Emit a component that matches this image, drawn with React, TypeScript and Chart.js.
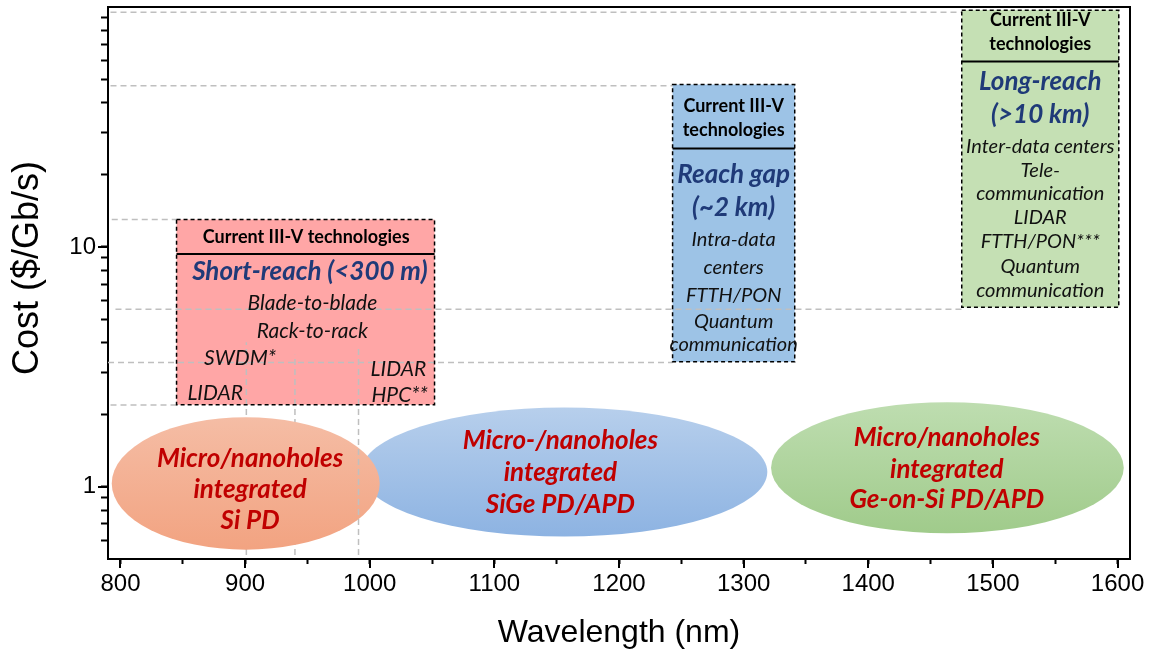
import React, { useEffect, useRef } from 'react';
import { Chart, registerables } from 'chart.js';

Chart.register(...registerables);

// Axes
const X_MIN = 790;
const X_MAX = 1610;
const Y_MIN = 0.5;
const Y_MAX = 100;
const xTickValues = [800, 850, 900, 950, 1000, 1050, 1100, 1150, 1200, 1250, 1300, 1350, 1400, 1450, 1500, 1550, 1600];
const xTickLabels = ['800', '', '900', '', '1000', '', '1100', '', '1200', '', '1300', '', '1400', '', '1500', '', '1600'];
const yTickValues = [0.6, 0.7, 0.8, 0.9, 1, 2, 3, 4, 5, 6, 7, 8, 9, 10, 20, 30, 40, 50, 60, 70, 80, 90];
const yTickLabels = ['', '', '', '', '1', '', '', '', '', '', '', '', '', '10', '', '', '', '', '', '', '', ''];
const xTitle = 'Wavelength (nm)';
const yTitle = 'Cost ($/Gb/s)';

// Dashed guide lines (gray)
const hGuideY = [95, 47, 13, 5.5, 3.3, 2.19];
const hGuideStart = [792, 792, 793, 796, 790, 792];
const hGuideEnd = [1475, 1243, 845, 1475, 1243, 845];
const vGuideX = [901, 940, 991];
const vGuideTop = [4.0, 3.55, 3.85];
const vGuideBottom = [0.52, 0.52, 0.52];

// Technology boxes
const boxX0 = [845, 1243, 1475];
const boxX1 = [1052, 1341, 1601];
const boxTop = [13, 47.5, 97];
const boxBottom = [2.2, 3.32, 5.6];
const boxSep = [9.33, 25.7, 59.3];
const boxFill = ['#FFA6A6', '#9DC3E6', '#C5E0B4'];

// Box texts
const pinkText = ['Current III-V technologies', 'Short-reach (<300 m)', 'Blade-to-blade', 'Rack-to-rack', 'SWDM*', 'LIDAR', 'LIDAR', 'HPC**'];
const pinkX = [949, 952, 954, 954, 896, 876, 1023, 1024];
const pinkY = [11.0, 7.88, 5.8, 4.45, 3.45, 2.46, 3.1, 2.41];
const pinkStyle = ['head', 'title', 'bodyL', 'bodyL', 'bodyL', 'bodyL', 'bodyL', 'bodyL'];

const blueText = ['Current III-V', 'technologies', 'Reach gap', '(~2 km)', 'Intra-data', 'centers', 'FTTH/PON', 'Quantum', 'communication'];
const blueX = [1292, 1292, 1292, 1292, 1292, 1292, 1292, 1292, 1292];
const blueY = [38.5, 30.6, 20.0, 14.6, 10.75, 8.2, 6.25, 4.9, 3.9];
const blueStyle = ['head', 'head', 'title', 'title', 'body', 'body', 'body', 'body', 'body'];

const greenText = ['Current III-V', 'technologies', 'Long-reach', '(>10 km)', 'Inter-data centers', 'Tele-', 'communication', 'LIDAR', 'FTTH/PON***', 'Quantum', 'communication'];
const greenX = [1538, 1538, 1538, 1538, 1538, 1538, 1538, 1538, 1538, 1538, 1538];
const greenY = [88.4, 70.3, 48.9, 35.7, 26.3, 20.9, 16.7, 13.3, 10.55, 8.31, 6.55];
const greenStyle = ['head', 'head', 'title', 'title', 'body', 'body', 'body', 'body', 'body', 'body', 'body'];

// Ellipses (detector platforms), drawn in this order
const ellX0 = [993, 793, 1322];
const ellX1 = [1319, 1008, 1605];
const ellTop = [2.14, 1.95, 2.25];
const ellBottom = [0.62, 0.547, 0.64];
const ellColTop = ['#B7CFEC', '#F5BDA5', '#BEDDB0'];
const ellColBottom = ['#8DB3E2', '#F2A381', '#A0CB8B'];

const ellText = [
  ['Micro-/nanoholes', 'integrated', 'SiGe PD/APD'],
  ['Micro/nanoholes', 'integrated', 'Si PD'],
  ['Micro/nanoholes', 'integrated', 'Ge-on-Si PD/APD'],
];
const ellTextX = [1153, 904, 1463];
const ellTextY = [
  [1.56, 1.146, 0.845],
  [1.31, 0.975, 0.725],
  [1.61, 1.18, 0.88],
];

const FONT = 'Lato, "Open Sans", sans-serif';
const AXIS_FONT = '"Liberation Sans", Arial, sans-serif';

function fontFor(style: string): [string, string] {
  if (style === 'head') return [`bold 18px ${FONT}`, '#000000'];
  if (style === 'title') return [`italic bold 26px ${FONT}`, '#1F3A78'];
  if (style === 'bodyL') return [`italic 21px ${FONT}`, '#111111'];
  return [`italic 20px ${FONT}`, '#111111'];
}

const decorPlugin = {
  id: 'decor',
  beforeDatasetsDraw(chart: any) {
    const { ctx } = chart;
    const xs = chart.scales.x;
    const ys = chart.scales.y;
    ctx.save();
    for (let i = 0; i < boxX0.length; i++) {
      const l = xs.getPixelForValue(boxX0[i]);
      const r = xs.getPixelForValue(boxX1[i]);
      const t = ys.getPixelForValue(boxTop[i]);
      const b = ys.getPixelForValue(boxBottom[i]);
      ctx.fillStyle = boxFill[i];
      ctx.fillRect(l, t, r - l, b - t);
    }
    ctx.restore();
  },
  beforeDatasetDraw(chart: any, args: any) {
    const ds = chart.data.datasets[args.index];
    if (!ds || ds.label !== 'v991') return;
    const { ctx } = chart;
    const xs = chart.scales.x;
    const ys = chart.scales.y;
    ctx.save();
    for (let i = 0; i < ellX0.length; i++) {
      const l = xs.getPixelForValue(ellX0[i]);
      const r = xs.getPixelForValue(ellX1[i]);
      const t = ys.getPixelForValue(ellTop[i]);
      const b = ys.getPixelForValue(ellBottom[i]);
      const g = ctx.createLinearGradient(0, t, 0, b);
      g.addColorStop(0, ellColTop[i]);
      g.addColorStop(1, ellColBottom[i]);
      ctx.fillStyle = g;
      ctx.beginPath();
      ctx.ellipse((l + r) / 2, (t + b) / 2, (r - l) / 2, (b - t) / 2, 0, 0, Math.PI * 2);
      ctx.fill();
      ctx.font = `italic bold 26px ${FONT}`;
      ctx.fillStyle = '#C00000';
      ctx.textAlign = 'center';
      ctx.textBaseline = 'middle';
      for (let k = 0; k < ellText[i].length; k++) {
        ctx.fillText(ellText[i][k], xs.getPixelForValue(ellTextX[i]), ys.getPixelForValue(ellTextY[i][k]));
      }
    }
    ctx.restore();
  },
  afterDatasetsDraw(chart: any) {
    const { ctx } = chart;
    const xs = chart.scales.x;
    const ys = chart.scales.y;
    ctx.save();
    for (let i = 0; i < boxX0.length; i++) {
      const l = xs.getPixelForValue(boxX0[i]);
      const r = xs.getPixelForValue(boxX1[i]);
      const t = ys.getPixelForValue(boxTop[i]);
      const b = ys.getPixelForValue(boxBottom[i]);
      const s = ys.getPixelForValue(boxSep[i]);
      ctx.strokeStyle = '#000000';
      ctx.lineWidth = 1.5;
      ctx.setLineDash([4, 3]);
      ctx.strokeRect(l, t, r - l, b - t);
      ctx.setLineDash([]);
      ctx.lineWidth = 2;
      ctx.beginPath();
      ctx.moveTo(l, s);
      ctx.lineTo(r, s);
      ctx.stroke();
    }
    const groups: [string[], number[], number[], string[]][] = [
      [pinkText, pinkX, pinkY, pinkStyle],
      [blueText, blueX, blueY, blueStyle],
      [greenText, greenX, greenY, greenStyle],
    ];
    ctx.textAlign = 'center';
    ctx.textBaseline = 'middle';
    for (const [texts, gx, gy, st] of groups) {
      for (let k = 0; k < texts.length; k++) {
        const [f, c] = fontFor(st[k]);
        ctx.font = f;
        ctx.fillStyle = c;
        ctx.fillText(texts[k], xs.getPixelForValue(gx[k]), ys.getPixelForValue(gy[k]));
      }
    }
    ctx.restore();
  },
  afterDraw(chart: any) {
    const { ctx, chartArea } = chart;
    const xs = chart.scales.x;
    const ys = chart.scales.y;
    ctx.save();
    ctx.strokeStyle = '#000000';
    ctx.lineWidth = 2;
    ctx.beginPath();
    ctx.moveTo(chartArea.left, chartArea.top);
    ctx.lineTo(chartArea.right, chartArea.top);
    ctx.lineTo(chartArea.right, chartArea.bottom);
    ctx.stroke();
    // longer major tick marks
    ctx.beginPath();
    for (let i = 0; i < xTickValues.length; i++) {
      if (!xTickLabels[i]) continue;
      const px = Math.round(xs.getPixelForValue(xTickValues[i]));
      ctx.moveTo(px, chartArea.bottom);
      ctx.lineTo(px, chartArea.bottom + 9);
    }
    for (let i = 0; i < yTickValues.length; i++) {
      if (!yTickLabels[i]) continue;
      const py = Math.round(ys.getPixelForValue(yTickValues[i]));
      ctx.moveTo(chartArea.left, py);
      ctx.lineTo(chartArea.left - 10, py);
    }
    ctx.stroke();
    // y-axis title
    ctx.translate(28, 268);
    ctx.rotate(-Math.PI / 2);
    ctx.font = `36px ${AXIS_FONT}`;
    ctx.fillStyle = '#000000';
    ctx.textAlign = 'center';
    ctx.textBaseline = 'middle';
    ctx.fillText(yTitle, 0, 0);
    ctx.restore();
  },
};

export default function App() {
  const canvasRef = useRef<HTMLCanvasElement | null>(null);

  useEffect(() => {
    document.body.style.margin = '0';
    const canvas = canvasRef.current;
    if (!canvas) return;

    const guideStyle = {
      type: 'line' as const,
      borderColor: '#BFBFBF',
      borderWidth: 1.5,
      borderDash: [6, 4],
      pointRadius: 0,
      fill: false,
      showLine: true,
    };
    const datasets: any[] = [];
    for (let i = 0; i < hGuideY.length; i++) {
      datasets.push({
        ...guideStyle,
        label: 'h' + i,
        data: [
          { x: hGuideStart[i], y: hGuideY[i] },
          { x: hGuideEnd[i], y: hGuideY[i] },
        ],
      });
    }
    for (let i = 0; i < vGuideX.length; i++) {
      datasets.push({
        ...guideStyle,
        label: 'v' + vGuideX[i],
        order: vGuideX[i] === 991 ? -1 : 0,
        data: [
          { x: vGuideX[i], y: vGuideBottom[i] },
          { x: vGuideX[i], y: vGuideTop[i] },
        ],
      });
    }

    const chart = new Chart(canvas, {
      type: 'line',
      data: { datasets },
      plugins: [decorPlugin],
      options: {
        animation: false,
        responsive: false,
        parsing: true,
        layout: { padding: { left: 0, right: 21, top: 7, bottom: 0 } },
        plugins: {
          legend: { display: false },
          tooltip: { enabled: false },
        },
        scales: {
          x: {
            type: 'linear',
            min: X_MIN,
            max: X_MAX,
            afterBuildTicks: (scale: any) => {
              scale.ticks = xTickValues.map((v) => ({ value: v }));
            },
            afterFit: (scale: any) => {
              scale.height = 97;
              scale.paddingLeft = 0;
              scale.paddingRight = 0;
            },
            ticks: {
              autoSkip: false,
              maxRotation: 0,
              padding: 6,
              color: '#000000',
              font: { family: AXIS_FONT, size: 24 },
              callback: (v: any) => {
                const i = xTickValues.indexOf(Number(v));
                return i >= 0 ? xTickLabels[i] : '';
              },
            },
            grid: {
              drawOnChartArea: false,
              drawTicks: true,
              tickLength: 5,
              tickWidth: 2,
              tickColor: '#000000',
            },
            border: { display: true, color: '#000000', width: 2 },
            title: {
              display: true,
              text: xTitle,
              color: '#000000',
              font: { family: AXIS_FONT, size: 32 },
              padding: { top: 0, bottom: 4 },
            },
          },
          y: {
            type: 'logarithmic',
            min: Y_MIN,
            max: Y_MAX,
            afterBuildTicks: (scale: any) => {
              scale.ticks = yTickValues.map((v) => ({ value: v }));
            },
            afterFit: (scale: any) => {
              scale.width = 108;
              scale.paddingTop = 0;
              scale.paddingBottom = 0;
            },
            ticks: {
              autoSkip: false,
              padding: 5,
              color: '#000000',
              font: { family: AXIS_FONT, size: 24 },
              callback: (v: any) => {
                const i = yTickValues.indexOf(Number(v));
                return i >= 0 ? yTickLabels[i] : '';
              },
            },
            grid: {
              drawOnChartArea: false,
              drawTicks: true,
              tickLength: 7,
              tickWidth: 2,
              tickColor: '#000000',
            },
            border: { display: true, color: '#000000', width: 2 },
            title: { display: false },
          },
        },
      },
    } as any);

    return () => {
      chart.destroy();
    };
  }, []);

  return (
    <div style={{ width: 1151, height: 656, background: '#ffffff' }}>
      <canvas ref={canvasRef} width={1151} height={656} style={{ display: 'block' }} />
    </div>
  );
}
